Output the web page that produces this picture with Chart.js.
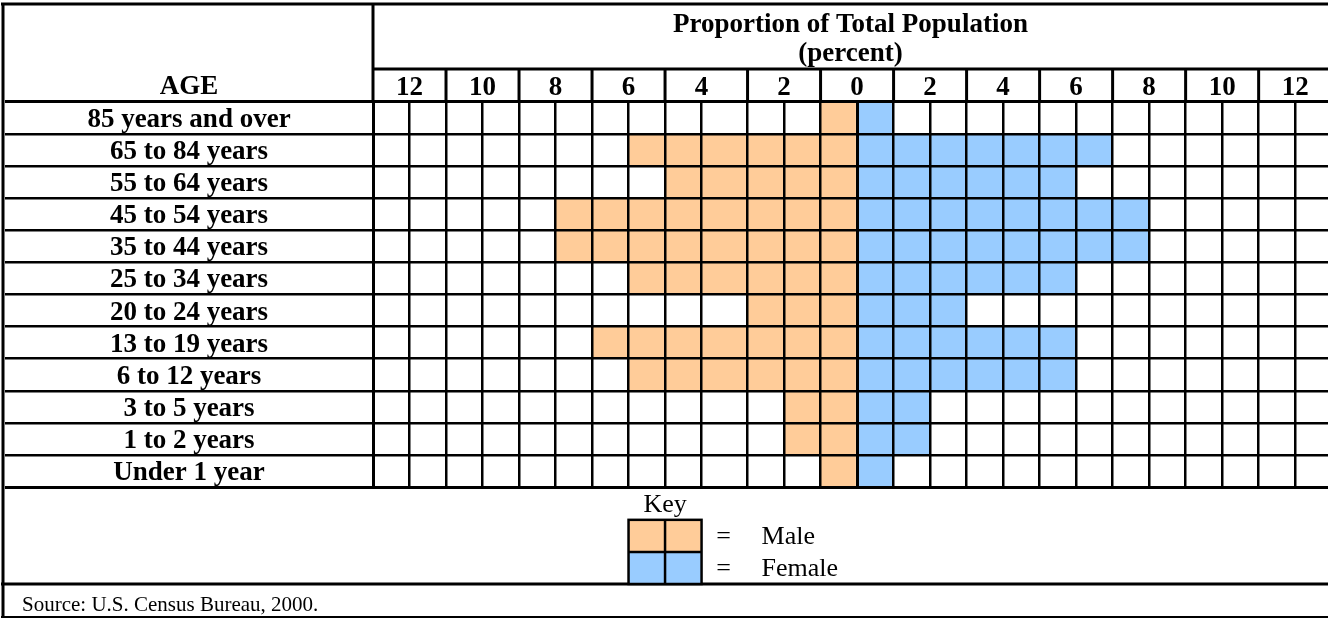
<!DOCTYPE html>
<html>
<head>
<meta charset="utf-8">
<script src="https://cdn.jsdelivr.net/npm/chart.js@4.4.1/dist/chart.umd.min.js"></script>
<style>
  html, body { margin: 0; padding: 0; background: #fff; }
  #wrap { width: 1328px; height: 618px; }
</style>
</head>
<body>
<div id="wrap"><canvas id="pyramid" width="1328" height="618"></canvas></div>
<script>
// age groups, top row first
const ageGroups = [
  '85 years and over', '65 to 84 years', '55 to 64 years', '45 to 54 years',
  '35 to 44 years', '25 to 34 years', '20 to 24 years', '13 to 19 years',
  '6 to 12 years', '3 to 5 years', '1 to 2 years', 'Under 1 year'
];
// percent of total population
const malePct   = [1, 6, 5, 8, 8, 6, 3, 7, 6, 2, 2, 1];
const femalePct = [1, 7, 6, 8, 8, 6, 3, 6, 6, 2, 2, 1];
// labelled header ticks (male side negative)
const percentTicks = [-12, -10, -8, -6, -4, -2, 0, 2, 4, 6, 8, 10, 12];
const seriesNames = ['Male', 'Female'];
const seriesColors = ['#FFCC99', '#99CCFF'];
const titleLines = ['Proportion of Total Population', '(percent)'];
const sourceNote = 'Source: U.S. Census Bureau, 2000.';

const SERIF = '"Liberation Serif", "Times New Roman", serif';

// linear scale where one worksheet column is drawn a bit wider, like the original sheet
class WorksheetScale extends Chart.LinearScale {
  warp(v) {
    const w = this.options.wideCell;
    if (!w) return v;
    return v + w.extra * Math.min(Math.max(v - w.from, 0), 1);
  }
  getPixelForValue(value) {
    const a = this.warp(this.min), b = this.warp(this.max);
    return this.left + (this.warp(value) - a) / (b - a) * this.width;
  }
}
WorksheetScale.id = 'worksheet';
WorksheetScale.defaults = Chart.LinearScale.defaults;
Chart.register(WorksheetScale);

const sheetPlugin = {
  id: 'sheet',
  afterDraw(chart) {
    const { ctx, chartArea: area, scales: { x, y } } = chart;
    const W = chart.width, H = chart.height;
    const line = (x1, y1, x2, y2, w) => {
      ctx.beginPath();
      ctx.lineWidth = w;
      ctx.moveTo(x1, y1);
      ctx.lineTo(x2, y2);
      ctx.stroke();
    };
    ctx.save();
    ctx.strokeStyle = '#000';
    ctx.fillStyle = '#000';

    // outer frame and header rules
    line(1, 4, W, 4, 3);
    line(3, 3, 3, H, 3);
    line(area.left, 69, W, 69, 3);
    line(area.left, 4, area.left, area.top, 3);
    for (let v = -11; v <= 11; v += 2) {
      const px = x.getPixelForValue(v);
      line(px, 69, px, area.top, 3);
    }
    const keyBottom = 584;
    line(1, keyBottom, W, keyBottom, 3);
    line(1, H - 1, W, H - 1, 2);

    // AGE header + row labels
    const labelX = (5 + area.left) / 2;
    ctx.textAlign = 'center';
    ctx.textBaseline = 'middle';
    ctx.font = 'bold 27px ' + SERIF;
    ctx.fillText('AGE', labelX, 87);
    ageGroups.forEach((g, i) => {
      ctx.fillText(g, labelX, y.getPixelForValue(i) + 2);
    });

    // key
    const rowH = (area.bottom - area.top) / ageGroups.length;
    const k0 = x.getPixelForValue(-6), k1 = x.getPixelForValue(-5), k2 = x.getPixelForValue(-4);
    ctx.font = '26px ' + SERIF;
    ctx.fillText('Key', k1, 505);
    chart.data.datasets.forEach((ds, i) => {
      const top = keyBottom - rowH * (2 - i);
      ctx.fillStyle = ds.backgroundColor;
      ctx.fillRect(k0, top, k2 - k0, rowH);
      ctx.fillStyle = '#000';
      ctx.textAlign = 'center';
      ctx.fillText('=', k2 + 22, top + rowH / 2 + 1);
      ctx.textAlign = 'left';
      ctx.fillText(ds.label, k2 + 60, top + rowH / 2 + 1);
    });
    const kTop = keyBottom - rowH * 2;
    ctx.lineWidth = 2.5;
    ctx.strokeRect(k0, kTop, k2 - k0, rowH * 2);
    line(k1, kTop, k1, keyBottom, 2.5);
    line(k0, kTop + rowH, k2, kTop + rowH, 2.5);

    // source note
    ctx.textAlign = 'left';
    ctx.font = '21px ' + SERIF;
    ctx.fillText(sourceNote, 22, 605);
    ctx.restore();
  }
};

new Chart(document.getElementById('pyramid'), {
  type: 'bar',
  data: {
    labels: ageGroups,
    datasets: [
      {
        label: seriesNames[0],
        data: malePct.map(v => -v),
        backgroundColor: seriesColors[0]
      },
      {
        label: seriesNames[1],
        data: femalePct,
        backgroundColor: seriesColors[1]
      }
    ]
  },
  options: {
    indexAxis: 'y',
    responsive: false,
    animation: false,
    events: [],
    datasets: { bar: { barPercentage: 1, categoryPercentage: 1, borderWidth: 0 } },
    layout: { padding: { top: 4, left: 5, right: 0, bottom: 131 } },
    plugins: { legend: { display: false }, tooltip: { enabled: false } },
    scales: {
      x: {
        type: 'worksheet',
        position: 'top',
        stacked: true,
        min: -13,
        max: 12.9,
        wideCell: { from: -4, extra: 0.26 },
        afterBuildTicks(scale) {
          const ticks = [];
          for (let v = -13; v <= 12; v++) ticks.push({ value: v });
          scale.ticks = ticks;
        },
        afterFit(scale) { scale.height = 98; },
        border: { display: false },
        grid: {
          z: 1,
          color: '#000',
          drawTicks: false,
          lineWidth: c => (c.tick && (c.tick.value === 0 || c.tick.value === -13)) ? 3 : 2.5
        },
        ticks: {
          autoSkip: false,
          maxRotation: 0,
          padding: 0,
          color: '#000',
          font: { family: SERIF, size: 27, weight: 'bold', lineHeight: 1.0 },
          callback: v => percentTicks.includes(v) ? String(Math.abs(v)) : ''
        },
        title: {
          display: true,
          text: titleLines,
          color: '#000',
          padding: { top: 6, bottom: 0 },
          font: { family: SERIF, size: 27, weight: 'bold', lineHeight: 1.08 }
        }
      },
      y: {
        type: 'category',
        stacked: true,
        afterFit(scale) { scale.width = 368; },
        border: { display: false },
        grid: {
          z: 1,
          color: '#000',
          offset: true,
          drawTicks: true,
          tickLength: 368,
          lineWidth: c => (c.index === 0 || c.index === undefined) ? 3 : 2.5
        },
        ticks: { display: false }
      }
    }
  },
  plugins: [sheetPlugin]
});
</script>
</body>
</html>
